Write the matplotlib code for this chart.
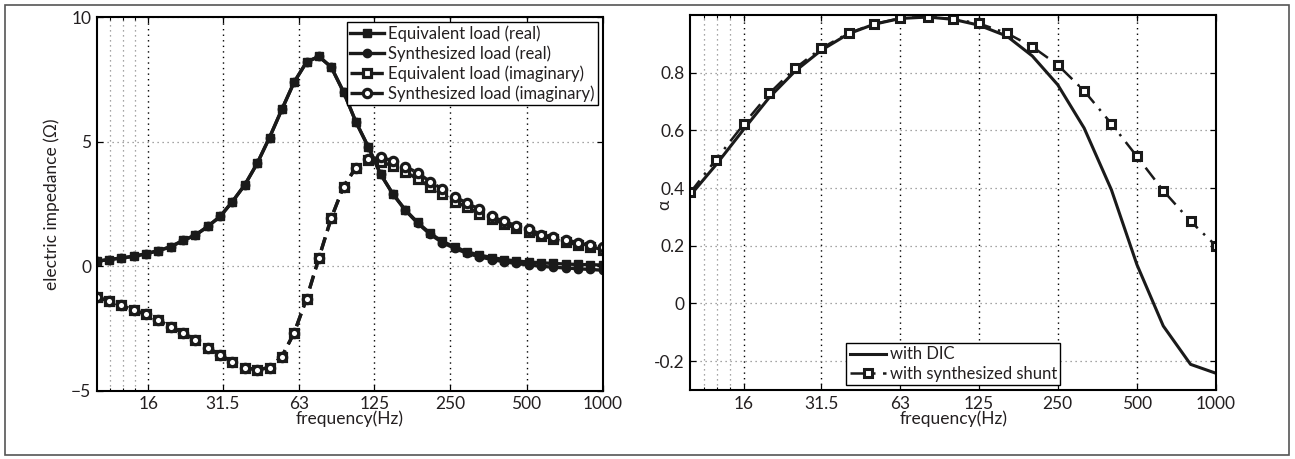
import numpy as np
import matplotlib
matplotlib.use('Agg')
import matplotlib.pyplot as plt
from matplotlib.patches import Rectangle

plt.rcParams['font.family'] = ['Lato', 'DejaVu Sans']
plt.rcParams['mathtext.fontset'] = 'dejavusans'

# frequency points of the impedance curves (Hz)
freq_z = [10.00, 11.19, 12.52, 14.01, 15.67, 17.54, 19.62, 21.95, 24.56, 27.48,
          30.75, 34.40, 38.49, 43.07, 48.19, 53.92, 60.33, 67.50, 75.52, 84.50,
          94.54, 105.78, 118.35, 132.42, 148.16, 165.77, 185.48, 207.52, 232.19, 259.79,
          290.67, 325.22, 363.88, 407.13, 455.52, 509.66, 570.24, 638.02, 713.86, 798.70,
          893.65, 1000.0]

eq_real = [0.20, 0.27, 0.33, 0.40, 0.50, 0.63, 0.78, 1.04, 1.25, 1.60,
           2.00, 2.60, 3.27, 4.13, 5.17, 6.30, 7.40, 8.20, 8.43, 8.00,
           7.00, 5.80, 4.80, 3.70, 2.90, 2.27, 1.76, 1.33, 1.00, 0.78,
           0.58, 0.45, 0.35, 0.27, 0.21, 0.17, 0.14, 0.11, 0.09, 0.07,
           0.06, 0.05]
syn_real = [0.20, 0.27, 0.33, 0.40, 0.50, 0.63, 0.78, 1.04, 1.25, 1.60,
            2.00, 2.60, 3.27, 4.13, 5.17, 6.30, 7.40, 8.20, 8.43, 8.00,
            7.00, 5.80, 4.80, 3.70, 2.90, 2.25, 1.73, 1.29, 0.95, 0.72,
            0.52, 0.38, 0.27, 0.18, 0.11, 0.05, 0.00, -0.04, -0.07, -0.10,
            -0.13, -0.16]
eq_imag = [-1.24, -1.40, -1.57, -1.77, -1.93, -2.17, -2.44, -2.67, -2.96, -3.27,
           -3.57, -3.84, -4.07, -4.16, -4.07, -3.63, -2.67, -1.31, 0.33, 1.93,
           3.20, 3.96, 4.25, 4.20, 4.03, 3.80, 3.50, 3.20, 2.90, 2.60,
           2.37, 2.10, 1.90, 1.70, 1.53, 1.36, 1.23, 1.10, 0.96, 0.87,
           0.78, 0.67]
syn_imag = [-1.24, -1.40, -1.57, -1.77, -1.93, -2.17, -2.44, -2.67, -2.96, -3.27,
            -3.57, -3.84, -4.07, -4.16, -4.07, -3.63, -2.67, -1.31, 0.33, 1.93,
            3.20, 3.96, 4.30, 4.37, 4.24, 4.00, 3.76, 3.40, 3.10, 2.80,
            2.53, 2.29, 2.00, 1.80, 1.63, 1.50, 1.27, 1.17, 1.07, 0.93,
            0.84, 0.76]

# third-octave bands for absorption
freq_a = [10, 12.5, 16, 20, 25, 31.5, 40, 50, 63, 80, 100, 125, 160, 200, 250,
          315, 400, 500, 630, 800, 1000]
alpha_dic = [0.375, 0.480, 0.605, 0.715, 0.805, 0.878, 0.935, 0.968, 0.988, 0.993,
             0.985, 0.965, 0.927, 0.858, 0.758, 0.608, 0.394, 0.135, -0.078, -0.211,
             -0.242]
alpha_shunt = [0.385, 0.498, 0.623, 0.729, 0.815, 0.885, 0.937, 0.969, 0.989, 0.994,
               0.986, 0.971, 0.937, 0.890, 0.827, 0.737, 0.623, 0.510, 0.391, 0.285,
               0.200]

xticks = [16, 31.5, 63, 125, 250, 500, 1000]
xticklabels = ['16', '31.5', '63', '125', '250', '500', '1000']
minor_x = [11.25, 12.65, 14.2]

txt = '#231f20'
ink = '#1a1a1a'
fs = 12.5

fig = plt.figure(figsize=(12.95, 4.59), dpi=100)
fig.patches.append(Rectangle((5 / 1295, 4 / 459), 1284 / 1295, 450 / 459,
                             transform=fig.transFigure, fill=False,
                             edgecolor='#555555', linewidth=1.2))

ax1 = fig.add_axes([0.0747, 0.1488, 0.3907, 0.8135])
ax2 = fig.add_axes([0.5331, 0.1503, 0.4059, 0.8170])


def style_axis(ax):
    ax.set_xscale('log')
    ax.set_xlim(10, 1000)
    ax.set_xticks(xticks)
    ax.set_xticklabels(xticklabels)
    ax.set_xticks(minor_x, minor=True)
    ax.xaxis.set_minor_formatter(matplotlib.ticker.NullFormatter())
    ax.tick_params(which='both', direction='in', top=True, right=True,
                   labelsize=fs, colors='black', labelcolor=txt, pad=4)
    ax.tick_params(which='major', length=4, width=0.9)
    ax.tick_params(which='minor', length=2, width=0.8)
    ax.grid(True, which='major', axis='x', linestyle=(0, (1, 3)), color='black', linewidth=1.0)
    ax.grid(True, which='major', axis='y', linestyle=(0, (1, 3)), color='#888888', linewidth=0.9)
    ax.grid(True, which='minor', axis='x', linestyle=(0, (1, 3)), color='#888888', linewidth=0.9)
    for s in ax.spines.values():
        s.set_linewidth(1.5)
        s.set_color('black')
    ax.set_xlabel('frequency(Hz)', fontsize=fs, color=txt, labelpad=-1)


# left panel: impedance
lw = 2.4
ax1.plot(freq_z, eq_real, '-', color=ink, lw=lw, marker='s', ms=5.5,
         mfc=ink, mec=ink, label='Equivalent load (real)')
ax1.plot(freq_z, syn_real, '-', color=ink, lw=lw, marker='o', ms=6,
         mfc=ink, mec=ink, label='Synthesized load (real)')
ax1.plot(freq_z, eq_imag, '--', color=ink, lw=lw, marker='s', ms=5.5,
         mfc='white', mec=ink, mew=2.3, dashes=(4, 2),
         label='Equivalent load (imaginary)')
ax1.plot(freq_z, syn_imag, '--', color=ink, lw=lw, marker='o', ms=6,
         mfc='white', mec=ink, mew=2.3, dashes=(4, 2),
         label='Synthesized load (imaginary)')
style_axis(ax1)
ax1.set_ylim(-5, 10)
ax1.set_yticks([-5, 0, 5, 10])
ax1.set_yticklabels(['\u22125', '0', '5', '10'])
ax1.set_ylabel('electric impedance (\u03a9)', fontsize=fs, color=txt)
ax1.yaxis.set_label_coords(-0.072, 0.5)
leg1 = ax1.legend(loc='upper right', fontsize=12, frameon=True, fancybox=False,
                  edgecolor='black', framealpha=1, handlelength=2.0,
                  handletextpad=0.25, labelspacing=0.2, borderpad=0.2,
                  borderaxespad=0.3)
leg1.get_frame().set_linewidth(1.0)
for t in leg1.get_texts():
    t.set_color(txt)

# right panel: absorption coefficient
ax2.plot(freq_a, alpha_dic, '-', color=ink, lw=2.2, label='with DIC')
ax2.plot(freq_a, alpha_shunt, '-.', color=ink, lw=1.8, marker='s', ms=5.5,
         mfc='white', mec=ink, mew=2.2, dashes=(6, 3, 1, 3),
         label='with synthesized shunt')
style_axis(ax2)
ax2.set_ylim(-0.3, 1.0)
ax2.set_yticks([-0.2, 0, 0.2, 0.4, 0.6, 0.8])
ax2.set_yticklabels(['-0.2', '0', '0.2', '0.4', '0.6', '0.8'])
ax2.set_ylabel('\u03b1', fontsize=fs, color=txt)
ax2.yaxis.set_label_coords(-0.035, 0.493)
leg2 = ax2.legend(loc='lower center', bbox_to_anchor=(0.5, 0.0), fontsize=12,
                  frameon=True, fancybox=False, edgecolor='black', framealpha=1,
                  handlelength=2.2, handletextpad=0.2, labelspacing=0.2,
                  borderpad=0.2, borderaxespad=0.3)
leg2.get_frame().set_linewidth(1.0)
for t in leg2.get_texts():
    t.set_color(txt)

fig.savefig('out.png', dpi=100)
